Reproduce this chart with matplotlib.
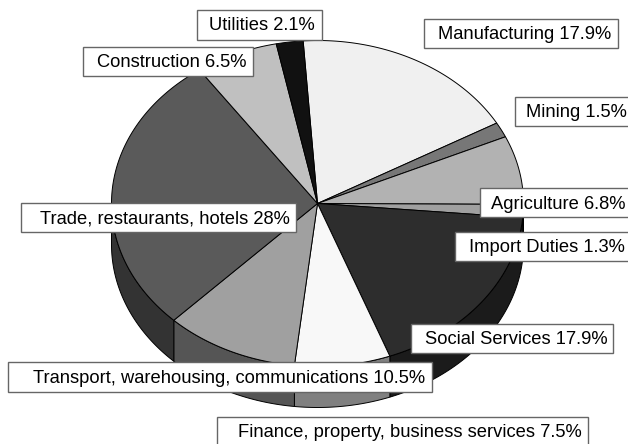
import numpy as np
import matplotlib
matplotlib.use("Agg")
import matplotlib.pyplot as plt
from matplotlib.patches import Polygon, Rectangle

plt.rcParams['font.family'] = ['Liberation Sans', 'DejaVu Sans']

# data, clockwise from the start angle
categories = ["Manufacturing", "Mining", "Agriculture", "Import Duties", "Social Services",
              "Finance, property, business services", "Transport, warehousing, communications",
              "Trade, restaurants, hotels", "Construction", "Utilities"]
values = [17.9, 1.5, 6.8, 1.3, 17.9, 7.5, 10.5, 28, 6.5, 2.1]

# styles
top_colors = ["#f0f0f0", "#777777", "#b2b2b2", "#a0a0a0", "#2d2d2d",
              "#f8f8f8", "#a0a0a0", "#5a5a5a", "#c0c0c0", "#111111"]
side_colors = ["#787878", "#3c3c3c", "#595959", "#505050", "#1b1b1b",
               "#808080", "#555555", "#333333", "#606060", "#080808"]
# label boxes: left, top, right, bottom in pixels
boxes = [(424, 19, 618, 48), (515, 97, 640, 126), (480, 188, 640, 217), (455, 232, 640, 261),
         (411, 324, 613, 353), (217, 417, 588, 450), (8, 362, 432, 392),
         (21, 203, 296, 232), (83, 47, 253, 76), (197, 10, 322, 40)]
text_pos = [(525, 34.5), (576, 112.5), (558, 204.5), (546.5, 247),
            (516, 339), (410, 432), (229.5, 378),
            (165, 219), (172, 62.5), (262, 26)]

cx, cy, rx, ry, depth = 317.5, 203.5, 206, 163, 41
start = 94.0

fig = plt.figure(figsize=(6.28, 4.44), dpi=100)
ax = fig.add_axes([0, 0, 1, 1])
ax.set_xlim(0, 628)
ax.set_ylim(444, 0)
ax.axis('off')


def arc(a0, a1, dy=0.0):
    """Points on the ellipse from angle a0 to a1 (degrees, counter-clockwise on screen)."""
    n = max(2, int(abs(a1 - a0) * 2))
    t = np.radians(np.linspace(a0, a1, n))
    return np.column_stack([cx + rx * np.cos(t), cy - ry * np.sin(t) + dy])


sweeps = np.array(values) / sum(values) * 360
ends = start - np.cumsum(sweeps)
begins = ends + sweeps

# side walls: only the front half of the pie (screen angles 180..360 -> -180..0)
for a0, a1, c in zip(begins, ends, side_colors):
    for shift in (0, 360):
        lo, hi = max(a1 + shift - 360, -180), min(a0 + shift - 360, 0)
        if hi > lo:
            pts = np.vstack([arc(hi, lo), arc(lo, hi, depth)])
            ax.add_patch(Polygon(pts, closed=True, fc=c, ec='black', lw=0.7, zorder=1))

# top faces
for a0, a1, c in zip(begins, ends, top_colors):
    pts = np.vstack([[cx, cy], arc(a0, a1)])
    ax.add_patch(Polygon(pts, closed=True, fc=c, ec='black', lw=0.7, zorder=2))

# labels
for cat, val, box, pos in zip(categories, values, boxes, text_pos):
    l, t, r, b = box
    ax.add_patch(Rectangle((l, t), r - l, b - t, fc='white', ec='#666666', lw=1.0, zorder=3))
    ax.text(pos[0], pos[1], f"{cat} {val:g}%", ha='center', va='center',
            fontsize=13.2, color='black', zorder=4)

fig.savefig("out.png", dpi=100)
